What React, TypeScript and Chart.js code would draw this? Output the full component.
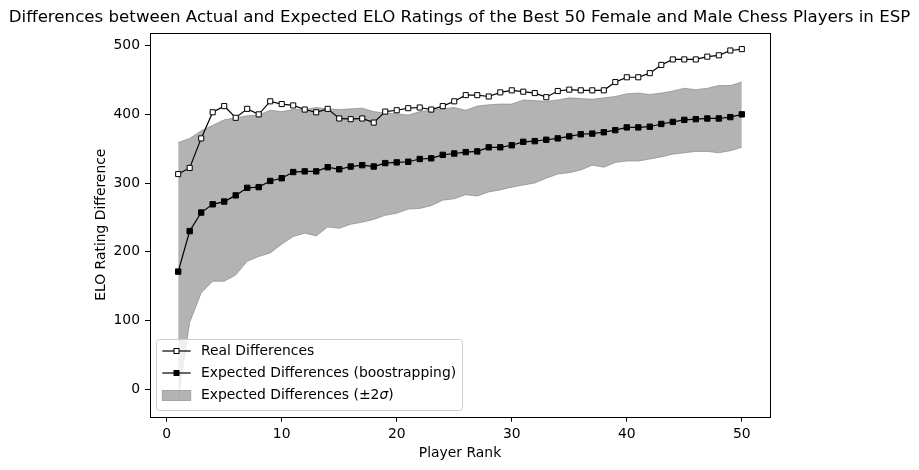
import React, { useEffect, useRef } from "react";
import { Chart, registerables } from "chart.js";

Chart.register(...registerables);

const ranks = [1, 2, 3, 4, 5, 6, 7, 8, 9, 10, 11, 12, 13, 14, 15, 16, 17, 18, 19, 20, 21, 22, 23, 24, 25, 26, 27, 28, 29, 30, 31, 32, 33, 34, 35, 36, 37, 38, 39, 40, 41, 42, 43, 44, 45, 46, 47, 48, 49, 50];

const realDiff = [313, 322, 365, 403, 412, 395, 408, 400, 419, 415, 413, 407, 403, 408, 394, 393, 394, 388, 404, 406, 409, 410, 407, 412, 419, 428, 428, 426, 432, 435, 433, 431, 425, 434, 436, 435, 435, 435, 447, 454, 454, 460, 472, 480, 480, 480, 484, 486, 493, 495];

const expectedDiff = [171, 230, 257, 269, 273, 282, 293, 294, 303, 307, 316, 317, 317, 323, 320, 324, 326, 324, 329, 330, 331, 335, 336, 341, 343, 345, 346, 352, 352, 355, 360, 361, 363, 365, 368, 371, 372, 374, 377, 381, 381, 382, 386, 389, 392, 393, 394, 394, 396, 400];

const upperBand = [359, 365, 376, 384, 392, 395, 398, 399, 406, 404, 407, 407, 410, 408, 407, 408, 409, 404, 402, 401, 399, 404, 406, 408, 410, 406, 412, 414, 415, 415, 421, 420, 419, 421, 424, 423, 422, 424, 426, 430, 431, 429, 431, 434, 438, 436, 438, 442, 442, 447];

const lowerBand = [-15, 97, 140, 157, 157, 166, 186, 193, 198, 211, 222, 227, 223, 236, 234, 240, 243, 247, 253, 256, 262, 263, 267, 275, 277, 283, 281, 287, 290, 294, 297, 300, 307, 313, 315, 319, 326, 323, 330, 332, 332, 335, 338, 342, 344, 346, 346, 344, 347, 352];

const xTicks = [0, 10, 20, 30, 40, 50];
const yTicks = [0, 100, 200, 300, 400, 500];

const titleText = "Differences between Actual and Expected ELO Ratings of the Best 50 Female and Male Chess Players in ESP";
const legendLabels = ["Real Differences", "Expected Differences (boostrapping)", "Expected Differences (±2", "σ", ")"];

const FONT = "'DejaVu Sans', sans-serif";
const BAND = "rgba(128,128,128,0.6)";

const toPts = (ys: number[]) => ranks.map((r, i) => ({ x: r, y: ys[i] }));

const framePlugin = {
  id: "frameAndLegend",
  afterDraw(chart: any) {
    const { ctx, chartArea } = chart;
    ctx.save();
    ctx.strokeStyle = "#000";
    ctx.lineWidth = 1;
    ctx.strokeRect(Math.round(chartArea.left) + 0.5, Math.round(chartArea.top) + 0.5, Math.round(chartArea.right - chartArea.left), Math.round(chartArea.bottom - chartArea.top));

    const bx = 156.5, by = 339.5, bw = 306, bh = 71, rr = 3;
    ctx.beginPath();
    ctx.moveTo(bx + rr, by);
    ctx.lineTo(bx + bw - rr, by);
    ctx.quadraticCurveTo(bx + bw, by, bx + bw, by + rr);
    ctx.lineTo(bx + bw, by + bh - rr);
    ctx.quadraticCurveTo(bx + bw, by + bh, bx + bw - rr, by + bh);
    ctx.lineTo(bx + rr, by + bh);
    ctx.quadraticCurveTo(bx, by + bh, bx, by + bh - rr);
    ctx.lineTo(bx, by + rr);
    ctx.quadraticCurveTo(bx, by, bx + rr, by);
    ctx.closePath();
    ctx.fillStyle = "rgba(255,255,255,0.8)";
    ctx.fill();
    ctx.strokeStyle = "#cccccc";
    ctx.lineWidth = 1;
    ctx.stroke();

    const hx0 = 162.3, hx1 = 190.7, hxc = (hx0 + hx1) / 2;
    const rows = [351, 373, 395.5];
    const tx = 201;
    ctx.font = `13.9px ${FONT}`;
    ctx.textBaseline = "middle";
    ctx.textAlign = "left";
    ctx.fillStyle = "#000";

    ctx.beginPath();
    ctx.moveTo(hx0, rows[0]);
    ctx.lineTo(hx1, rows[0]);
    ctx.strokeStyle = "#000";
    ctx.lineWidth = 1.2;
    ctx.stroke();
    ctx.fillStyle = "#fff";
    ctx.fillRect(hxc - 2.5, rows[0] - 2.5, 5, 5);
    ctx.lineWidth = 1;
    ctx.strokeRect(hxc - 2.5, rows[0] - 2.5, 5, 5);
    ctx.fillStyle = "#000";
    ctx.fillText(legendLabels[0], tx, rows[0]);

    ctx.beginPath();
    ctx.moveTo(hx0, rows[1]);
    ctx.lineTo(hx1, rows[1]);
    ctx.lineWidth = 1.2;
    ctx.stroke();
    ctx.fillRect(hxc - 3, rows[1] - 3, 6, 6);
    ctx.fillText(legendLabels[1], tx, rows[1]);

    ctx.fillStyle = BAND;
    ctx.fillRect(hx0, rows[2] - 5, hx1 - hx0, 10);
    ctx.strokeStyle = BAND;
    ctx.lineWidth = 1;
    ctx.strokeRect(hx0, rows[2] - 5, hx1 - hx0, 10);
    ctx.fillStyle = "#000";
    let cx = tx;
    ctx.fillText(legendLabels[2], cx, rows[2]);
    cx += ctx.measureText(legendLabels[2]).width;
    ctx.font = `italic 13.9px ${FONT}`;
    ctx.fillText(legendLabels[3], cx, rows[2]);
    cx += ctx.measureText(legendLabels[3]).width;
    ctx.font = `13.9px ${FONT}`;
    ctx.fillText(legendLabels[4], cx, rows[2]);
    ctx.restore();
  },
};

export default function App() {
  const ref = useRef<HTMLCanvasElement | null>(null);

  useEffect(() => {
    if (!ref.current) return;
    const chart = new Chart(ref.current, {
      type: "line",
      data: {
        datasets: [
          {
            label: "Real Differences",
            data: toPts(realDiff),
            borderColor: "#000",
            borderWidth: 1.2,
            pointStyle: "rect",
            pointRadius: 3.6,
            pointBackgroundColor: "#fff",
            pointBorderColor: "#000",
            pointBorderWidth: 1,
            fill: false,
            order: 0,
          },
          {
            label: "Expected Differences (boostrapping)",
            data: toPts(expectedDiff),
            borderColor: "#000",
            borderWidth: 1.2,
            pointStyle: "rect",
            pointRadius: 3.8,
            pointBackgroundColor: "#000",
            pointBorderColor: "#000",
            pointBorderWidth: 1,
            fill: false,
            order: 1,
          },
          {
            label: "upper",
            data: toPts(upperBand),
            borderColor: BAND,
            borderWidth: 1,
            backgroundColor: BAND,
            pointRadius: 0,
            fill: "+1",
            order: 2,
          },
          {
            label: "lower",
            data: toPts(lowerBand),
            borderColor: BAND,
            borderWidth: 1,
            backgroundColor: BAND,
            pointRadius: 0,
            fill: false,
            order: 3,
          },
        ],
      },
      options: {
        responsive: false,
        animation: false,
        devicePixelRatio: 1,
        layout: { padding: 0 },
        plugins: {
          legend: { display: false },
          tooltip: { enabled: false },
          title: {
            display: true,
            text: titleText,
            color: "#000",
            font: { family: FONT, size: 16.67, weight: "normal", lineHeight: 1.2 },
            padding: { top: 8, bottom: 4.7 },
          },
        },
        scales: {
          x: {
            type: "linear",
            min: -1.45,
            max: 52.45,
            afterFit: (s: any) => { s.height = 53.3; },
            afterBuildTicks: (s: any) => { s.ticks = xTicks.map((v) => ({ value: v })); },
            ticks: { color: "#000", font: { family: FONT, size: 13.9 }, padding: 4, maxRotation: 0, autoSkip: false },
            grid: { display: true, drawOnChartArea: false, drawTicks: true, tickLength: 5, color: "#000" },
            border: { display: false },
            title: { display: true, text: "Player Rank", color: "#000", font: { family: FONT, size: 13.9 }, padding: { top: 0, bottom: 8.7 } },
          },
          y: {
            type: "linear",
            min: -40.3,
            max: 518.9,
            afterFit: (s: any) => { s.width = 150; },
            afterBuildTicks: (s: any) => { s.ticks = yTicks.map((v) => ({ value: v })); },
            ticks: { color: "#000", font: { family: FONT, size: 13.9 }, padding: 5 },
            grid: { display: true, drawOnChartArea: false, drawTicks: true, tickLength: 5, color: "#000" },
            border: { display: false },
            title: { display: true, text: "ELO Rating Difference", color: "#000", font: { family: FONT, size: 13.9 }, padding: { top: 92.7, bottom: 0 } },
          },
          yRightSpace: {
            type: "linear",
            position: "right",
            display: true,
            afterFit: (s: any) => { s.width = 149; },
            ticks: { display: false },
            grid: { display: false, drawTicks: false },
            border: { display: false },
            title: { display: false },
          },
        },
      },
      plugins: [framePlugin],
    } as any);
    return () => chart.destroy();
  }, []);

  return (
    <div style={{ position: "absolute", left: 0, top: 0, width: 919, height: 470, background: "#fff" }}>
      <canvas ref={ref} width={919} height={470} />
    </div>
  );
}
